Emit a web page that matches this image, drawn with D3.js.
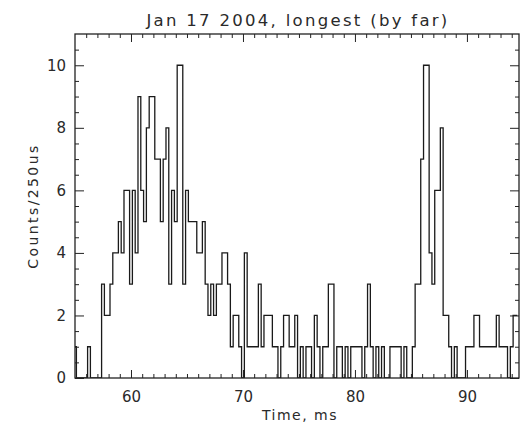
<!DOCTYPE html>
<html>
<head>
<meta charset="utf-8">
<script src="https://cdn.jsdelivr.net/npm/d3@7"></script>
<style>
  body { margin: 0; background: #fff; }
  svg text { font-family: "DejaVu Sans", sans-serif; fill: #2a2a2a; }
</style>
</head>
<body>
<svg id="chart" width="520" height="426"></svg>
<script>
// 250us bins, first bin centred on 55.00 ms
const binStart = 55.0;
const binWidth = 0.25;
const counts = [
  1, 0, 0, 0, 0, 1, 0, 0, 0, 0,   // 55.00 - 57.25
  3, 2, 2, 3, 4, 4, 5, 4, 6, 6,   // 57.50 - 59.75
  3, 6, 4, 9, 6, 5, 8, 9, 9, 7,   // 60.00 - 62.25
  7, 5, 7, 8, 3, 6, 5, 10, 10, 3, // 62.50 - 64.75
  6, 5, 5, 5, 4, 4, 5, 3, 2, 3,   // 65.00 - 67.25
  2, 3, 3, 4, 4, 3, 1, 2, 2, 1,   // 67.50 - 69.75
  0, 4, 1, 1, 1, 1, 3, 1, 2, 2,   // 70.00 - 72.25
  2, 1, 1, 0, 1, 2, 2, 1, 1, 2,   // 72.50 - 74.75
  0, 1, 0, 1, 1, 0, 2, 1, 0, 1,   // 75.00 - 77.25
  1, 3, 3, 0, 1, 1, 0, 1, 0, 1,   // 77.50 - 79.75
  1, 1, 1, 0, 1, 3, 1, 0, 1, 0,   // 80.00 - 82.25
  1, 0, 0, 1, 1, 1, 1, 0, 1, 0,   // 82.50 - 84.75
  0, 1, 3, 3, 7, 10, 10, 4, 3, 6, // 85.00 - 87.25
  6, 8, 2, 2, 1, 0, 1, 0, 0, 0,   // 87.50 - 89.75
  1, 1, 1, 2, 2, 1, 1, 1, 1, 1,   // 90.00 - 92.25
  1, 2, 1, 1, 1, 0, 1, 2, 2       // 92.50 - 94.50
];
const xTicks = [60, 70, 80, 90];
const yTicks = [0, 2, 4, 6, 8, 10];
const title = "Jan 17 2004, longest (by far)";
const xLabel = "Time, ms";
const yLabel = "Counts/250us";

const svg = d3.select("#chart");
const margin = { top: 34, right: 1, bottom: 48, left: 75 };
const W = 520, H = 426;
const width = W - margin.left - margin.right,
  height = H - margin.top - margin.bottom;

// the scanned plot is cut just short of 95 ms on the right
const x = d3.scaleLinear().domain([55, 94.65]).range([0, width]);
const y = d3.scaleLinear().domain([0, 11]).range([height, 0]);

const g = svg.append("g")
  .attr("transform", "translate(" + margin.left + "," + margin.top + ")");

g.append("clipPath").attr("id", "clip")
  .append("rect").attr("width", width).attr("height", height);

const data = counts.map((c, i) => ({ t: binStart + i * binWidth, c: c }));

// histogram as a step line (like IDL psym=10)
g.append("path")
  .datum(data)
  .attr("clip-path", "url(#clip)")
  .attr("fill", "none")
  .attr("stroke", "#1a1a1a")
  .attr("stroke-width", 1.3)
  .attr("d", d3.line().curve(d3.curveStep)
    .x(d => x(d.t)).y(d => y(d.c)));

// minor ticks
const xMinor = d3.range(56, 95, 1).filter(v => v % 10 !== 0);
const yMinor = d3.range(0.5, 11, 0.5).filter(v => v % 2 !== 0);

function styleAxis(sel) {
  sel.select(".domain").remove();
  sel.selectAll("line").attr("stroke", "#222").attr("stroke-width", 1);
  sel.selectAll("text").attr("font-size", 15).attr("fill", "#2a2a2a")
    .attr("font-family", "DejaVu Sans, sans-serif");
}

// bottom
g.append("g").attr("transform", "translate(0," + height + ")")
  .call(d3.axisBottom(x).tickValues(xTicks).tickSize(-8).tickPadding(13)
    .tickFormat(d3.format("d")))
  .call(styleAxis);
g.append("g").attr("transform", "translate(0," + height + ")")
  .call(d3.axisBottom(x).tickValues(xMinor).tickSize(-4).tickFormat(""))
  .call(styleAxis);
// top
g.append("g")
  .call(d3.axisTop(x).tickValues(xTicks).tickSize(-8).tickFormat(""))
  .call(styleAxis);
g.append("g")
  .call(d3.axisTop(x).tickValues(xMinor).tickSize(-4).tickFormat(""))
  .call(styleAxis);
// left
g.append("g")
  .call(d3.axisLeft(y).tickValues(yTicks).tickSize(-9).tickPadding(9)
    .tickFormat(d3.format("d")))
  .call(styleAxis);
g.append("g")
  .call(d3.axisLeft(y).tickValues(yMinor).tickSize(-4).tickFormat(""))
  .call(styleAxis);
// right
g.append("g").attr("transform", "translate(" + width + ",0)")
  .call(d3.axisRight(y).tickValues(yTicks).tickSize(-9).tickFormat(""))
  .call(styleAxis);
g.append("g").attr("transform", "translate(" + width + ",0)")
  .call(d3.axisRight(y).tickValues(yMinor).tickSize(-4).tickFormat(""))
  .call(styleAxis);

// frame
g.append("rect")
  .attr("width", width).attr("height", height)
  .attr("fill", "none").attr("stroke", "#222").attr("stroke-width", 1.3);

// titles (the original font is widely spaced)
svg.append("text")
  .attr("x", margin.left + width / 2 + 1).attr("y", 26)
  .attr("text-anchor", "middle").attr("font-size", 16.5)
  .attr("letter-spacing", 2.3)
  .text(title);

svg.append("text")
  .attr("x", margin.left + width / 2 + 3).attr("y", 420)
  .attr("text-anchor", "middle").attr("font-size", 14)
  .attr("letter-spacing", 1.5)
  .text(xLabel);

svg.append("text")
  .attr("transform", "translate(38," + (margin.top + height / 2) + ") rotate(-90)")
  .attr("text-anchor", "middle").attr("font-size", 14)
  .attr("letter-spacing", 2.4)
  .text(yLabel);
</script>
</body>
</html>
